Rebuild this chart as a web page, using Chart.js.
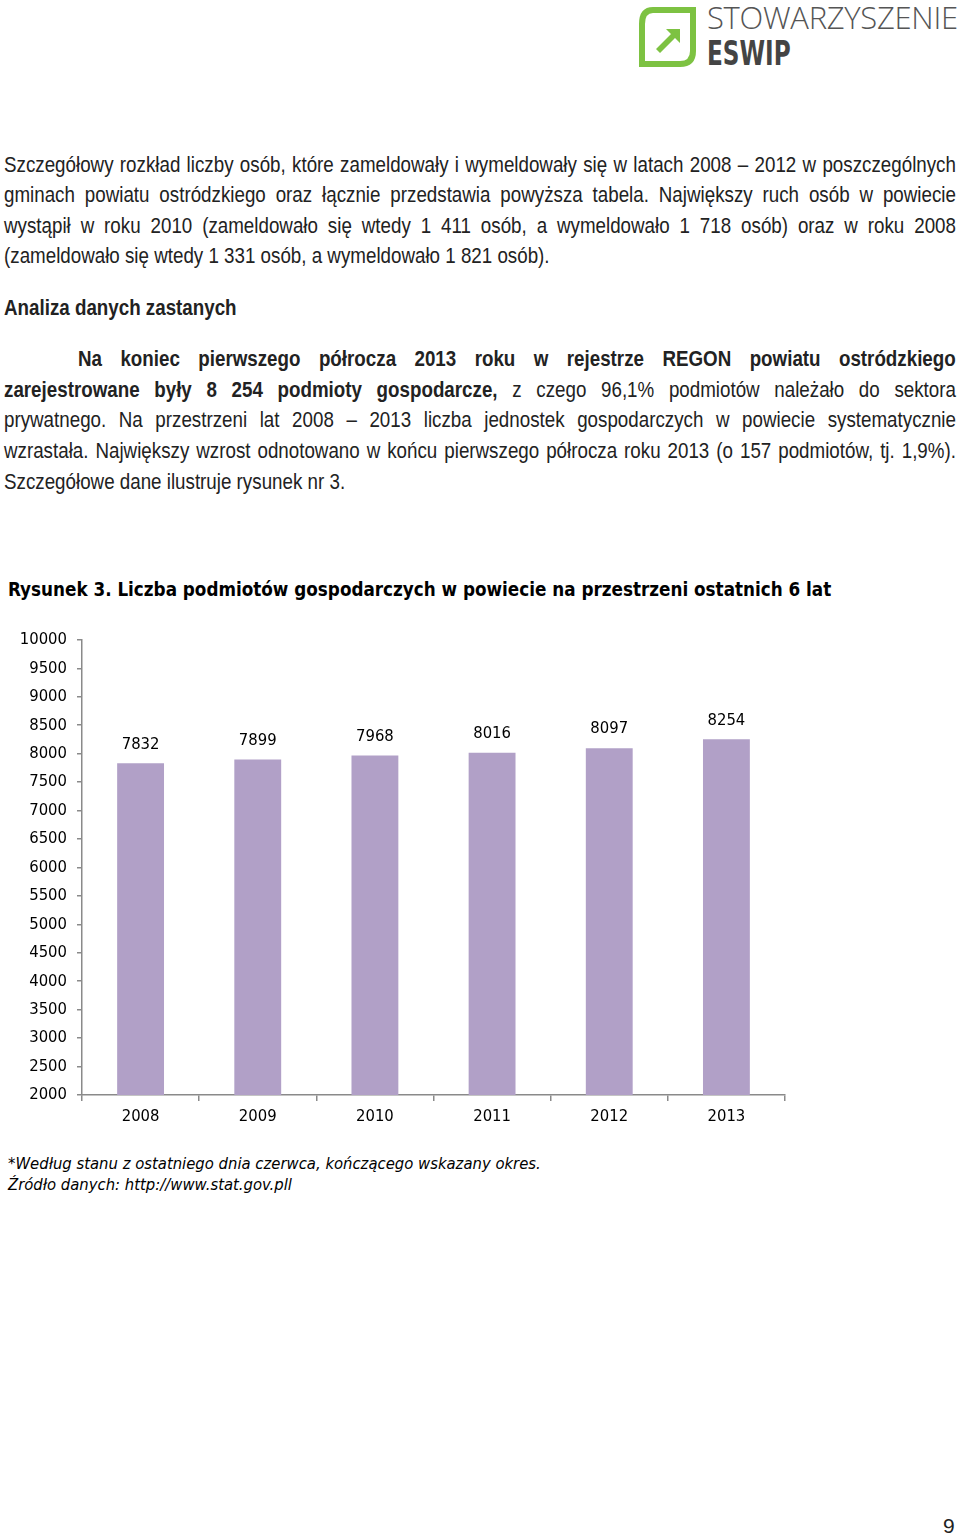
<!DOCTYPE html>
<html lang="pl">
<head>
<meta charset="utf-8">
<script src="https://cdn.jsdelivr.net/npm/chart.js@4/dist/chart.umd.min.js"></script>
<style>
  html, body { margin: 0; padding: 0; background: #fff; }
  body { width: 960px; height: 1539px; position: relative; overflow: hidden; }
  /* narrow body font: Liberation Sans squeezed horizontally */
  .line {
    position: absolute; left: 4px; width: 1116px;
    transform: scaleX(0.853); transform-origin: 0 0;
    font-family: "Liberation Sans", sans-serif;
    font-size: 22px; color: #222; white-space: nowrap; line-height: 24px;
  }
  .just { text-align: justify; text-align-last: justify; white-space: normal; }
  .b { font-weight: bold; }
  .logo-text1 {
    position: absolute; left: 707px; top: -4px;
    font-family: "Open Sans", sans-serif; font-weight: 300; font-size: 31px;
    color: #555; letter-spacing: -0.3px; white-space: nowrap;
  }
  .logo-text2 {
    position: absolute; left: 707px; top: 34px;
    transform: scaleX(0.78); transform-origin: 0 0;
    font-family: "DejaVu Sans Condensed", sans-serif; font-weight: bold; font-size: 33px;
    color: #444;
  }
  #title {
    position: absolute; left: 8px; top: 579px; white-space: nowrap;
    font-family: "DejaVu Sans Condensed", sans-serif; font-weight: bold; font-size: 18.7px; color: #000;
  }
  .note {
    position: absolute; left: 8px; white-space: nowrap;
    font-family: "DejaVu Sans Condensed", sans-serif; font-style: italic; font-size: 16.5px; color: #000;
  }
  #chartBox { position: absolute; left: 0; top: 620px; width: 800px; height: 520px; }
  #pageNo { position: absolute; left: 943px; top: 1514px; font-family: "Liberation Sans", sans-serif; font-size: 21px; color: #222; }
</style>
</head>
<body>

<svg style="position:absolute;left:639px;top:7px" width="57" height="61" viewBox="0 0 57 61">
  <path d="M14 3 H54 V44 Q54 57 41 57 H3 V17 Q3 3 14 3 Z" fill="none" stroke="#7dc242" stroke-width="6"/>
  <path d="M17 42 L32 27 L27 22 H41 V36 L36 31 L21 46 Z" fill="#7dc242"/>
</svg>
<div class="logo-text1">STOWARZYSZENIE</div>
<div class="logo-text2">ESWIP</div>

<div class="line just" style="top:153px">Szczegółowy rozkład liczby osób, które zameldowały i wymeldowały się w latach 2008 – 2012 w poszczególnych</div>
<div class="line just" style="top:183px">gminach powiatu ostródzkiego oraz łącznie przedstawia powyższa tabela. Największy ruch osób w powiecie</div>
<div class="line just" style="top:214px">wystąpił w roku 2010 (zameldowało się wtedy 1 411 osób, a wymeldowało 1 718 osób) oraz w roku 2008</div>
<div class="line" style="top:244px">(zameldowało się wtedy 1 331 osób, a wymeldowało 1 821 osób).</div>

<div class="line b" style="top:296px">Analiza danych zastanych</div>

<div class="line just b" style="top:347px;left:78px;width:1029px">Na koniec pierwszego półrocza 2013 roku w rejestrze REGON powiatu ostródzkiego</div>
<div class="line just" style="top:378px"><span class="b">zarejestrowane były 8 254 podmioty gospodarcze,</span> z czego 96,1% podmiotów należało do sektora</div>
<div class="line just" style="top:408px">prywatnego. Na przestrzeni lat 2008 – 2013 liczba jednostek gospodarczych w powiecie systematycznie</div>
<div class="line just" style="top:439px">wzrastała. Największy wzrost odnotowano w końcu pierwszego półrocza roku 2013 (o 157 podmiotów, tj. 1,9%).</div>
<div class="line" style="top:470px">Szczegółowe dane ilustruje rysunek nr 3.</div>

<div id="title">Rysunek 3. Liczba podmiotów gospodarczych w powiecie na przestrzeni ostatnich 6 lat</div>

<div id="chartBox"><canvas id="chart" width="800" height="520"></canvas></div>

<div class="note" style="top:1154px">*Według stanu z ostatniego dnia czerwca, kończącego wskazany okres.</div>
<div class="note" style="top:1175px">Źródło danych: http://www.stat.gov.pll</div>

<div id="pageNo">9</div>

<script>
const years = ['2008', '2009', '2010', '2011', '2012', '2013'];
const firms = [7832, 7899, 7968, 8016, 8097, 8254];
const yMin = 2000;
const yMax = 10000;
const yStep = 500;

const axisGrey = '#8a8a8a';
const chartFont = '"DejaVu Sans Condensed", sans-serif';

// values written above each bar
const barLabels = {
  id: 'barLabels',
  afterDatasetsDraw(chart) {
    const ctx = chart.ctx;
    const meta = chart.getDatasetMeta(0);
    ctx.save();
    ctx.font = '16.5px ' + chartFont;
    ctx.fillStyle = '#000';
    ctx.textAlign = 'center';
    ctx.textBaseline = 'middle';
    meta.data.forEach((bar, i) => {
      ctx.fillText(String(firms[i]), bar.x, bar.y - 19);
    });
    ctx.restore();
  }
};

new Chart(document.getElementById('chart'), {
  type: 'bar',
  data: {
    labels: years,
    datasets: [{
      data: firms,
      backgroundColor: '#b1a0c7',
      borderWidth: 0,
      barPercentage: 0.4,
      categoryPercentage: 1
    }]
  },
  options: {
    responsive: false,
    animation: false,
    layout: { padding: { top: 17, right: 15, left: 0, bottom: 0 } },
    plugins: {
      legend: { display: false },
      tooltip: { enabled: false }
    },
    scales: {
      x: {
        afterFit(scale) { scale.height = 45; },
        border: { color: axisGrey, width: 1.5 },
        grid: { drawOnChartArea: false, color: axisGrey, lineWidth: 1.5, tickLength: 6 },
        ticks: { color: '#000', font: { family: chartFont, size: 16.5 }, padding: 6 }
      },
      y: {
        min: yMin,
        max: yMax,
        afterFit(scale) { scale.width = 82; },
        border: { color: axisGrey, width: 1.5 },
        grid: { drawOnChartArea: false, color: axisGrey, lineWidth: 1.5, tickLength: 5 },
        ticks: {
          stepSize: yStep,
          color: '#000',
          font: { family: chartFont, size: 16.5 },
          padding: 10,
          callback: (v) => String(v)
        }
      }
    }
  },
  plugins: [barLabels]
});
</script>
</body>
</html>
